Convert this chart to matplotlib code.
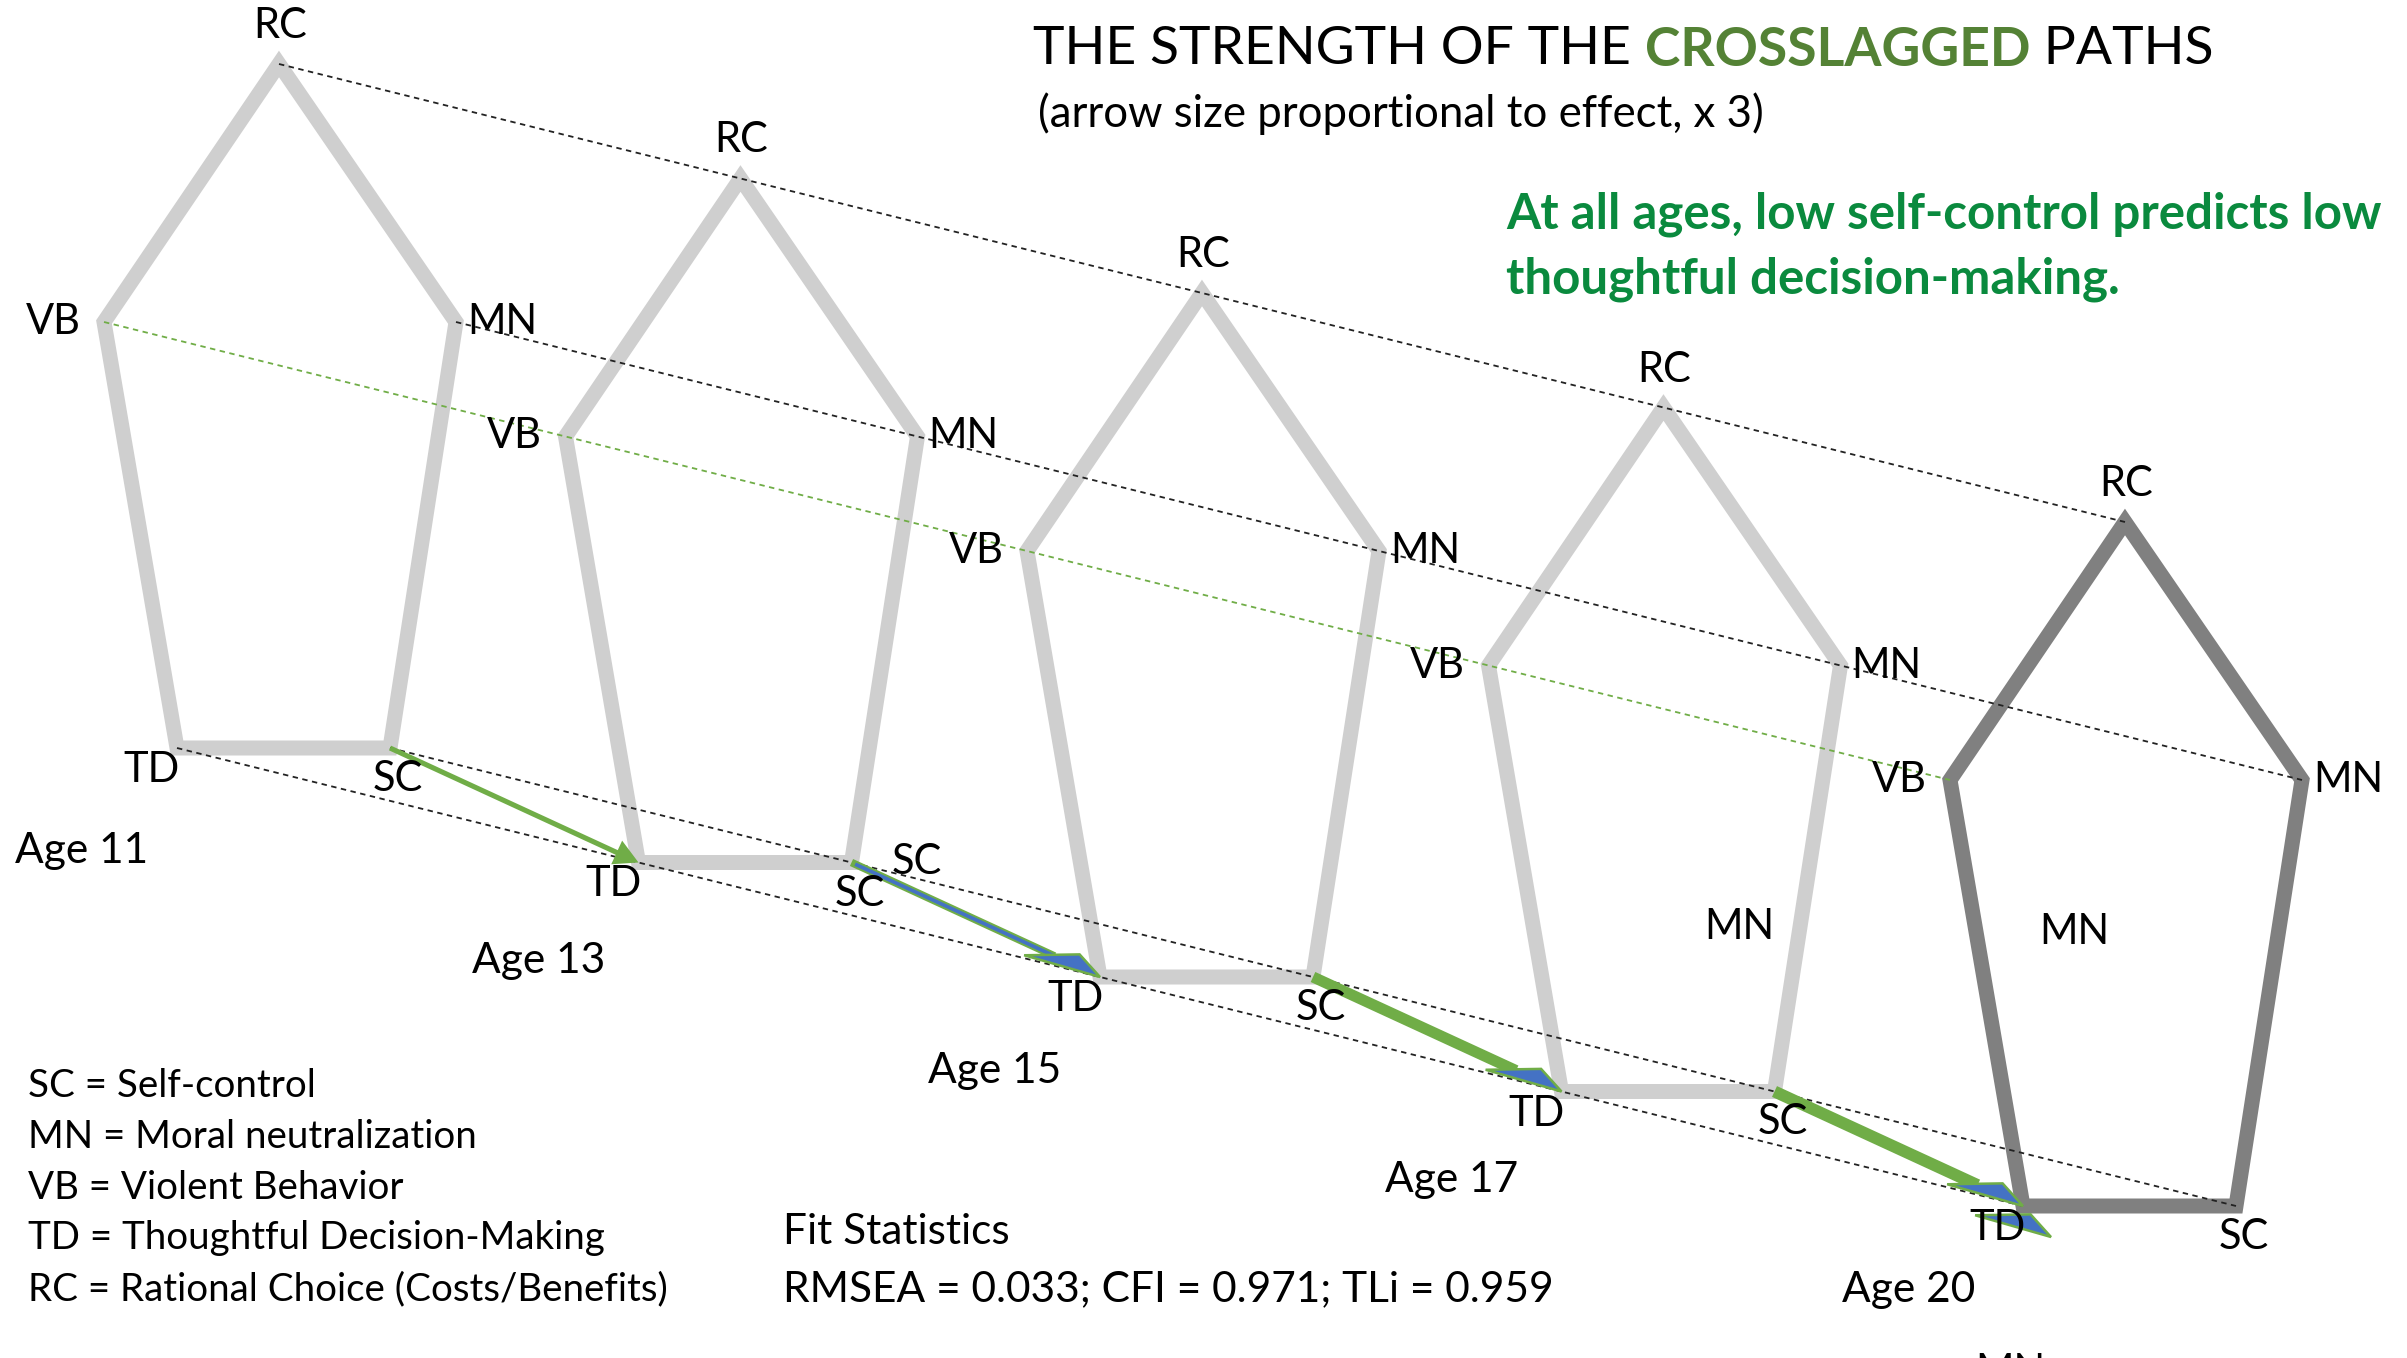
import numpy as np
import matplotlib.pyplot as plt
from matplotlib.patches import Polygon

plt.rcParams['font.family'] = ['Lato', 'DejaVu Sans']

# ---- data ----
ages = ["Age 11", "Age 13", "Age 15", "Age 17", "Age 20"]
nodes = ["RC", "MN", "SC", "TD", "VB"]
crosslag_effect = [0.06, 0.09, 0.13, 0.14]   # SC(t) -> TD(t+1), drawn x 3
legend_lines = [
    "SC = Self-control",
    "MN = Moral neutralization",
    "VB = Violent Behavior",
    "TD = Thoughtful Decision-Making",
    "RC = Rational Choice (Costs/Benefits)",
]
fit_lines = ["Fit Statistics", "RMSEA = 0.033; CFI = 0.971; TLi = 0.959"]
title_parts = ["THE STRENGTH OF THE ", "CROSSLAGGED", " PATHS"]
subtitle = "(arrow size proportional to effect, x 3)"
note = ["At all ages, low self-control predicts low", "thoughtful decision-making."]

# ---- layout (pixel space of the 2407x1358 image) ----
W, H = 2407, 1358
PX = 0.72  # points per pixel at dpi 100
shape = {"RC": (0, 0), "MN": (177, 258), "SC": (111, 684),
         "TD": (-102, 684), "VB": (-175, 258)}
origin = np.array([279.0, 64.0])
step = np.array([461.5, 114.5])
label_off = {"RC": (1, -38), "MN": (46, 0), "VB": (-51, 0),
             "TD": (-25, 22), "SC": (8, 31)}

LIGHT = "#cfcfcf"
DARK = "#808080"
GREEN = "#70ad47"
BLUE = "#4472c4"


def pos(i, name):
    return origin + i * step + np.array(shape[name], dtype=float)


def head_poly(tip, u, n):
    return [tip, tip - 78 * u + 12 * n, tip - 28 * u - 12 * n]


def draw_path(ax, start, tip, effect, first):
    d = tip - start
    u = d / np.linalg.norm(d)
    n = np.array([-u[1], u[0]])
    w = effect * 85  # px
    if first:
        end = tip - 20 * u
        ax.plot([start[0], end[0]], [start[1], end[1]], color=GREEN,
                lw=w * PX, solid_capstyle='butt', zorder=5)
        ax.add_patch(Polygon([tip, tip - 24 * u + 13 * n, tip - 24 * u - 13 * n],
                             closed=True, fc=GREEN, ec='none', zorder=6))
        return u, n
    end = tip - 50 * u
    ax.plot([start[0], end[0]], [start[1], end[1]], color=GREEN,
            lw=w * PX, solid_capstyle='butt', zorder=5)
    if effect < 0.1:
        ax.plot([start[0] + 4 * u[0], end[0]], [start[1] + 4 * u[1], end[1]],
                color=BLUE, lw=(w - 4) * PX, solid_capstyle='butt', zorder=5)
    ax.add_patch(Polygon(head_poly(tip, u, n), closed=True, fc=BLUE,
                         ec=GREEN, lw=2.5 * PX, joinstyle='miter', zorder=6))
    return u, n


def main():
    fig = plt.figure(figsize=(W / 100, H / 100), dpi=100)
    ax = fig.add_axes([0, 0, 1, 1])
    ax.set_xlim(0, W)
    ax.set_ylim(H, 0)
    ax.axis('off')

    # pentagons
    for i, age in enumerate(ages):
        pts = [pos(i, k) for k in nodes]
        col = DARK if i == len(ages) - 1 else LIGHT
        ax.add_patch(Polygon(pts, closed=True, fill=False, ec=col,
                             lw=15 * PX, joinstyle='miter', zorder=2))
        for k in nodes:
            p = pos(i, k) + np.array(label_off[k])
            ax.text(p[0], p[1], k, fontsize=30, ha='center', va='center',
                    zorder=7)

    # autoregressive guide lines
    last = len(ages) - 1
    for k in nodes:
        a, b = pos(0, k), pos(last, k)
        ax.plot([a[0], b[0]], [a[1], b[1]],
                color=GREEN if k == "VB" else "#222222",
                lw=1.3, dashes=(3, 2.5), zorder=3)

    # crosslagged paths SC(t) -> TD(t+1)
    for i, eff in enumerate(crosslag_effect):
        u, n = draw_path(ax, pos(i, "SC"), pos(i + 1, "TD"), eff, i == 0)
    tip2 = pos(last, "TD") + np.array([28, 31])
    ax.add_patch(Polygon(head_poly(tip2, u, n), closed=True, fc=BLUE,
                         ec=GREEN, lw=2.5 * PX, joinstyle='miter', zorder=6))

    # stray labels
    ax.text(pos(1, "SC")[0] + 65, pos(1, "SC")[1], "SC", fontsize=30,
            ha='center', va='center')
    ax.text(1739, 927, "MN", fontsize=30, ha='center', va='center')
    ax.text(2074, 932, "MN", fontsize=30, ha='center', va='center')
    ax.text(2010, 1372, "MN", fontsize=30, ha='center', va='center')

    # age labels
    for i, age in enumerate(ages):
        ax.text(15 + i * 456.7, 851 + i * 109.8, age, fontsize=30.5,
                ha='left', va='center')

    # legend
    for j, line in enumerate(legend_lines):
        ax.text(28, 1086 + j * 50.8, line, fontsize=27.7, ha='left', va='center')
    for j, line in enumerate(fit_lines):
        ax.text(783, 1232 + j * 57, line, fontsize=30.5, ha='left', va='center')

    # title with coloured word
    fig.canvas.draw()
    r = fig.canvas.get_renderer()
    x = 1033
    for part, col in zip(title_parts, ["black", "#548235", "black"]):
        t = ax.text(x, 50, part, fontsize=38.5, ha='left', va='center',
                    color=col, fontweight='bold' if col != "black" else 'normal')
        bb = t.get_window_extent(renderer=r)
        x = ax.transData.inverted().transform((bb.x1, bb.y0))[0]
    ax.text(1038, 114, subtitle, fontsize=31.5, ha='left', va='center')
    for j, line in enumerate(note):
        ax.text(1506, 214 + j * 65, line, fontsize=35.5, ha='left',
                va='center', color="#0a8a3e", fontweight='bold')

    fig.savefig("out.png", dpi=100)


if __name__ == '__main__':
    main()
